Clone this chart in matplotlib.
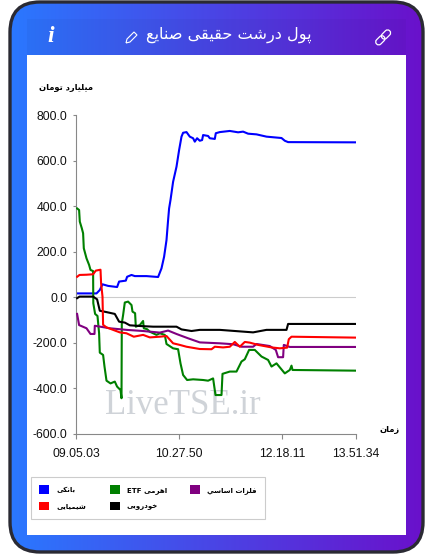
import numpy as np
import matplotlib
matplotlib.use('Agg')
import matplotlib.pyplot as plt
from matplotlib.patches import FancyBboxPatch, Rectangle, Patch
from matplotlib.path import Path
from matplotlib.patches import PathPatch
from matplotlib.transforms import Affine2D

W, H = 433, 559

# x = شماره نمونه روی محور زمان (محور ترتیبی است نه خطی)
tick_pos = [0, 103, 206, 279.5]
tick_labels = ['09.05.03', '10.27.50', '12.18.11', '13.51.34']
y_ticks = [-600, -400, -200, 0, 200, 400, 600, 800]

blue_x = [0.8, 20.2, 23.5, 26.2, 31.8, 40.8, 42.8, 49.5, 50.8, 55.2, 58.5, 70.2, 81.8, 85.2, 87.8, 90.2, 91.8, 92.8, 94.2, 96.8,
          100.2, 102.8, 105.2, 106.8, 110.2, 113.5, 116.8, 118.5, 120.8, 123.5, 125.8, 126.8, 131.8, 133.5, 138.5, 139.5,
          143.5, 153.5, 161.8, 166.8, 171.8, 180.2, 190.2, 205.2, 208.5, 211.8, 279.5]
blue_v = [17, 17, 32, 57, 50, 45, 69, 73, 90, 98, 93, 93, 89, 127, 178, 251, 339, 390, 427, 507,
          573, 646, 705, 722, 725, 705, 698, 683, 698, 687, 690, 712, 708, 698, 695, 720,
          725, 730, 724, 727, 718, 715, 705, 699, 687, 681, 680]

green_x = [0.8, 2.8, 3.5, 5.5, 6.8, 7.5, 10.2, 12.8, 14.2, 16.8, 17, 18.8, 21.2, 22.8, 23.5, 26.8, 28.2, 30.2, 34.2, 38.5, 40.8,
           44.2, 45.2, 45.5, 46.8, 48.5, 51.8, 55.2, 56.2, 58.8, 59.5, 63.5, 66.8, 67.5, 70.8, 73.5, 80.2, 83.5, 88.5, 90.2,
           96.8, 101.8, 104.2, 106.8, 110.8, 116.8, 126.8, 131.8, 136.8, 139.2, 145.2, 146.2, 153.5, 160.2, 165.2, 168.5,
           172.8, 178.5, 185.2, 191.8, 195.2, 200.2, 208.5, 213.5, 215.2, 216.2, 279.5]
green_v = [390, 383, 332, 303, 281, 215, 171, 142, 120, 115, -26, -73, -82, -158, -243, -253, -304, -366, -378, -370, -392,
           -407, -443, -114, -78, -23, -19, -34, -63, -70, -129, -122, -104, -136, -140, -151, -165, -158, -165, -205,
           -224, -228, -290, -341, -363, -360, -363, -366, -356, -429, -429, -336, -326, -326, -282, -272,
           -231, -231, -260, -275, -304, -290, -334, -319, -300, -319, -322]

purple_x = [0.8, 2.8, 10.2, 14.2, 18.2, 18.5, 33.5, 50.2, 66.8, 83.5, 91.8, 100.2, 111.8, 123.5, 143.5, 156.8, 165.2, 176.8,
            180.2, 193.5, 199.5, 201.8, 206.8, 207.5, 213.5, 279.5]
purple_v = [-73, -122, -136, -161, -161, -125, -136, -143, -148, -155, -146, -161, -180, -198, -202, -206, -217, -217,
            -205, -214, -231, -263, -263, -209, -218, -218]

red_x = [0.8, 3.2, 10.2, 16.8, 19.5, 24.2, 24.8, 26.2, 26.8, 30.2, 36.8, 43.5, 50.2, 57.5, 66.8, 73.5, 83.5, 90.2, 96.8, 103.5,
         110.2, 123.5, 135.2, 138.5, 146.8, 153.5, 158.5, 163.5, 168.5, 173.5, 181.8, 195.2, 203.5, 210.8, 212.5, 215.2, 279.5]
red_v = [90, 98, 99, 101, 117, 121, 61, 3, -121, -132, -143, -154, -158, -173, -165, -176, -173, -170, -202, -209,
         -217, -227, -228, -217, -220, -217, -196, -217, -196, -199, -209, -220, -224, -221, -184, -173, -177]

black_x = [0.8, 3.2, 16.8, 20.8, 23.5, 30.2, 38.5, 42.8, 48.5, 53.5, 63.5, 76.8, 100.2, 105.2, 115.2, 123.5, 143.5, 176.8,
           190.2, 210.2, 211.8, 279.5]
black_v = [-4, 3, 3, -9, -59, -65, -73, -107, -111, -123, -126, -129, -129, -141, -148, -143, -143, -154,
           -143, -143, -117, -117]

# شکل حروف فارسی: تنها، پایانی، آغازی، میانی
forms = {
    'ا': (0xFE8D, 0xFE8E), 'د': (0xFEA9, 0xFEAA), 'ر': (0xFEAD, 0xFEAE), 'ز': (0xFEAF, 0xFEB0), 'و': (0xFEED, 0xFEEE),
    'ب': (0xFE8F, 0xFE90, 0xFE91, 0xFE92), 'پ': (0xFB56, 0xFB57, 0xFB58, 0xFB59), 'ت': (0xFE95, 0xFE96, 0xFE97, 0xFE98),
    'ح': (0xFEA1, 0xFEA2, 0xFEA3, 0xFEA4), 'خ': (0xFEA5, 0xFEA6, 0xFEA7, 0xFEA8), 'س': (0xFEB1, 0xFEB2, 0xFEB3, 0xFEB4),
    'ش': (0xFEB5, 0xFEB6, 0xFEB7, 0xFEB8), 'ص': (0xFEB9, 0xFEBA, 0xFEBB, 0xFEBC), 'ع': (0xFEC9, 0xFECA, 0xFECB, 0xFECC),
    'ف': (0xFED1, 0xFED2, 0xFED3, 0xFED4), 'ق': (0xFED5, 0xFED6, 0xFED7, 0xFED8), 'ک': (0xFB8E, 0xFB8F, 0xFB90, 0xFB91),
    'ل': (0xFEDD, 0xFEDE, 0xFEDF, 0xFEE0), 'م': (0xFEE1, 0xFEE2, 0xFEE3, 0xFEE4), 'ن': (0xFEE5, 0xFEE6, 0xFEE7, 0xFEE8),
    'ه': (0xFEE9, 0xFEEA, 0xFEEB, 0xFEEC), 'ی': (0xFBFC, 0xFBFD, 0xFBFE, 0xFBFF), 'ي': (0xFEF1, 0xFEF2, 0xFEF3, 0xFEF4),
}


def shape_word(word):
    if word[0] not in forms:
        return word
    out = []
    for i, c in enumerate(word):
        f = forms[c]
        prev_joins = i > 0 and len(forms[word[i - 1]]) == 4
        next_joins = i < len(word) - 1 and len(f) == 4
        if prev_joins and next_joins:
            k = 3
        elif next_joins:
            k = 2
        elif prev_joins:
            k = 1
        else:
            k = 0
        out.append(chr(f[k]))
    return ''.join(reversed(out))


def fa(text):
    return ' '.join(shape_word(w) for w in reversed(text.split(' ')))


fig = plt.figure(figsize=(W / 100, H / 100), dpi=100, facecolor='white')

# پس زمینه کارت
bg = fig.add_axes([0, 0, 1, 1])
bg.set_xlim(0, W)
bg.set_ylim(H, 0)
bg.axis('off')
frame = FancyBboxPatch((10, 2), 413, 550, boxstyle='round,pad=0,rounding_size=30',
                       facecolor='none', edgecolor='#2a2a33', linewidth=2.4, zorder=3)
grad = np.zeros((2, 256, 3))
c1 = np.array([0x2a, 0x78, 0xff]) / 255
c2 = np.array([0x6a, 0x11, 0xcb]) / 255
for i in range(256):
    grad[:, i] = c1 + (c2 - c1) * i / 255
im = bg.imshow(grad, extent=(10, 423, 552, 2), aspect='auto', zorder=1)
bg.set_xlim(0, W)
bg.set_ylim(H, 0)
bg.add_patch(frame)
im.set_clip_path(frame)
bg.add_patch(Rectangle((27, 19), 379, 36, facecolor='black', alpha=0.03, linewidth=0, zorder=2))
bg.add_patch(Rectangle((27, 55), 379, 480, facecolor='white', linewidth=0, zorder=2))

bg.text(229, 35, fa('پول درشت حقیقی صنایع'), color='white', fontsize=11.6, ha='center', va='center',
        family='DejaVu Sans', zorder=4)
bg.text(51, 37, 'i', color='white', fontsize=17, ha='center', va='center', family='Liberation Serif',
        style='italic', weight='bold', zorder=4)
# مداد
pencil = Path([(126, 43), (127, 39), (134, 32), (137, 35), (130, 42), (126, 43)])
bg.add_patch(PathPatch(pencil, facecolor='none', edgecolor='white', linewidth=0.8, zorder=4))
# لینک
for cx, cy in [(380.3, 40.3), (386, 34.5)]:
    rot = Affine2D().rotate_deg_around(cx, cy, -45) + bg.transData
    bg.add_patch(FancyBboxPatch((cx - 5.2, cy - 3), 10.4, 6, boxstyle='round,pad=0,rounding_size=3',
                                facecolor='none', edgecolor='white', linewidth=0.9, zorder=4, transform=rot))

bg.text(66, 88, fa('میلیارد تومان'), color='black', fontsize=6, weight='bold', ha='center', va='center',
        family='DejaVu Sans', zorder=4)
bg.text(390, 430, fa('زمان'), color='black', fontsize=6, weight='bold', ha='center', va='center',
        family='DejaVu Sans', zorder=4)
bg.text(183, 406, 'LiveTSE.ir', color='#cfd3d8', fontsize=25, ha='center', va='center',
        family='Liberation Serif', zorder=4)

# نمودار
ax = fig.add_axes([76.3 / W, 1 - 434 / H, 279.5 / W, 319 / H])
ax.patch.set_alpha(0)
ax.set_xlim(0, 279.5)
ax.set_ylim(-600, 800)
ax.axhline(0, color='#cccccc', linewidth=0.8, zorder=1)
ax.plot(blue_x, blue_v, color='blue', linewidth=1.5, zorder=2)
ax.plot(green_x, green_v, color='green', linewidth=1.5, zorder=3)
ax.plot(purple_x, purple_v, color='purple', linewidth=1.5, zorder=4)
ax.plot(black_x, black_v, color='black', linewidth=1.5, zorder=5)
ax.plot(red_x, red_v, color='red', linewidth=1.5, zorder=6)

for s in ['top', 'right']:
    ax.spines[s].set_visible(False)
for s in ['left', 'bottom']:
    ax.spines[s].set_color('#888888')
    ax.spines[s].set_linewidth(0.8)
ax.set_xticks(tick_pos)
ax.set_xticklabels(tick_labels)
ax.set_yticks(y_ticks)
ax.set_yticklabels(['%.1f' % v for v in y_ticks])
ax.tick_params(axis='x', length=3.5, width=0.8, color='#888888', pad=6.5, labelsize=8.7, labelcolor='#111111')
ax.tick_params(axis='y', length=2, width=0.8, color='#888888', pad=4.5, labelsize=8.7, labelcolor='#111111')
for t in ax.get_xticklabels() + ax.get_yticklabels():
    t.set_family('Liberation Sans')

# راهنما
names = ['بانکی', 'شیمیایی', 'اهرمی ETF', 'خودرویی', 'فلزات اساسي']
colors = ['blue', 'red', 'green', 'black', 'purple']
handles = [Patch(facecolor=c, edgecolor='none', label=fa(n)) for c, n in zip(colors, names)]
leg = fig.legend(handles=handles, ncol=3, loc='upper left', bbox_to_anchor=(31 / W, 1 - 477 / H),
                 bbox_transform=fig.transFigure, borderaxespad=0, prop={'family': 'DejaVu Sans', 'weight': 'bold', 'size': 5},
                 handlelength=1.44, handleheight=1.44, handletextpad=1.0, columnspacing=3.4, labelspacing=1.2,
                 borderpad=1.2, fancybox=False, framealpha=1, edgecolor='#cccccc')
leg.get_frame().set_linewidth(0.8)

fig.savefig('out.png', dpi=100)
